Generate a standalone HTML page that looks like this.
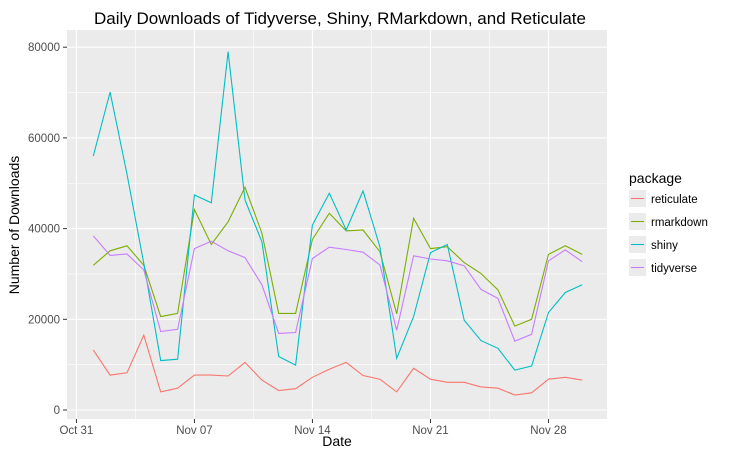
<!DOCTYPE html>
<html><head><meta charset="utf-8">
<style>
body{margin:0;background:#fff;}
svg{display:block;font-family:"Liberation Sans",Arial,sans-serif;}
</style></head>
<body>
<svg id="chart" width="741" height="458" viewBox="0 0 741 458" xmlns="http://www.w3.org/2000/svg">
<rect width="741" height="458" fill="#fff"/>
<text x="340" y="24" font-size="17" text-anchor="middle" fill="#000">Daily Downloads of Tidyverse, Shiny, RMarkdown, and Reticulate</text>
<rect x="67" y="30" width="540" height="389" fill="#ebebeb"/>
<g id="grid"></g>
<g id="axes"></g>
<g id="series"></g>
<text x="337" y="446" font-size="14" text-anchor="middle" fill="#000">Date</text>
<text transform="translate(19,225) rotate(-90)" font-size="14" text-anchor="middle" fill="#000">Number of Downloads</text>
<g id="legend">
<text x="629" y="183" font-size="14" fill="#000">package</text>
</g>
</svg>
<script>
const days = [1,2,3,4,5,6,7,8,9,10,11,12,13,14,15,16,17,18,19,20,21,22,23,24,25,26,27,28,29,30];
const reticulate = [13200,7700,8200,16500,4000,4800,7700,7700,7500,10500,6600,4300,4700,7200,9000,10500,7600,6800,4000,9200,6800,6100,6100,5100,4800,3300,3800,6800,7200,6600];
const rmarkdown = [31900,35100,36200,31900,20600,21300,44200,36500,41500,49100,39000,21300,21300,37600,43400,39500,39700,34900,21200,42300,35600,36000,32500,30100,26500,18500,20000,34300,36200,34300];
const shiny = [56000,70100,52000,32300,10900,11200,47400,45700,79000,46300,37100,11800,9900,40800,47800,39700,48300,36000,11400,20600,34700,36500,19800,15300,13600,8800,9700,21500,25900,27600];
const tidyverse = [38400,34100,34400,30900,17300,17800,35600,37200,35100,33600,27600,16900,17100,33400,35900,35400,34800,32000,17600,34000,33300,32900,31800,26600,24600,15200,16700,32900,35300,32700];
const seriesNames = ["reticulate","rmarkdown","shiny","tidyverse"];
const seriesColors = ["#F8766D","#7CAE00","#00BFC4","#C77CFF"];
const yTicks = [0,20000,40000,60000,80000];
const xTickDays = [0,7,14,21,28];
const xTickLabels = ["Oct 31","Nov 07","Nov 14","Nov 21","Nov 28"];

const NS="http://www.w3.org/2000/svg";
function xs(d){return 76.4+d*16.86;}
function ys(v){return 410-v/20000*90.7;}
function mk(tag,attrs,parent){const e=document.createElementNS(NS,tag);for(const k in attrs)e.setAttribute(k,attrs[k]);parent.appendChild(e);return e;}
const grid=document.getElementById('grid'),axes=document.getElementById('axes'),ser=document.getElementById('series'),leg=document.getElementById('legend');
// minor grid
for(let i=0;i<yTicks.length-1;i++){const v=(yTicks[i]+yTicks[i+1])/2;const l=mk('line',{x1:67,x2:607,y1:ys(v),y2:ys(v),stroke:'#fff','stroke-width':0.6},grid);

}
for(let i=0;i<xTickDays.length-1;i++){const d=(xTickDays[i]+xTickDays[i+1])/2;const l=mk('line',{x1:xs(d),x2:xs(d),y1:30,y2:419,stroke:'#fff','stroke-width':0.6},grid);

}
{const d=xTickDays[xTickDays.length-1]+3.5;const l=mk('line',{x1:xs(d),x2:xs(d),y1:30,y2:419,stroke:'#fff','stroke-width':0.6},grid);

}
yTicks.forEach(v=>{const y=ys(v);
const l=mk('line',{x1:67,x2:607,y1:y,y2:y,stroke:'#fff','stroke-width':1.1},grid);


const t=mk('line',{x1:63,x2:67,y1:y,y2:y,stroke:'#333','stroke-width':1},axes);


const tx=mk('text',{x:60,y:y+4,'font-size':11.5,'text-anchor':'end',fill:'#4d4d4d'},axes);tx.textContent=v;

});
xTickDays.forEach((d,i)=>{const x=xs(d);
const l=mk('line',{x1:x,x2:x,y1:30,y2:419,stroke:'#fff','stroke-width':1.1},grid);


const t=mk('line',{x1:x,x2:x,y1:419,y2:423,stroke:'#333','stroke-width':1},axes);


const tx=mk('text',{x:x,y:434,'font-size':11.5,'text-anchor':'middle',fill:'#4d4d4d'},axes);tx.textContent=xTickLabels[i];

});
const data=[reticulate,rmarkdown,shiny,tidyverse];
data.forEach((arr,si)=>{const pts=arr.map((v,i)=>xs(days[i]).toFixed(1)+','+ys(v).toFixed(1)).join(' ');
const p=mk('polyline',{points:pts,fill:'none',stroke:seriesColors[si],'stroke-width':1.1},ser);


const ky=190+si*23;
const r=mk('rect',{x:629,y:ky,width:17,height:17,fill:'#ebebeb'},leg);


const kl=mk('line',{x1:631,x2:644,y1:ky+8.5,y2:ky+8.5,stroke:seriesColors[si],'stroke-width':1.1},leg);


const t=mk('text',{x:651,y:ky+13,'font-size':11.5,fill:'#000'},leg);t.textContent=seriesNames[si];

});
</script>
</body></html>
